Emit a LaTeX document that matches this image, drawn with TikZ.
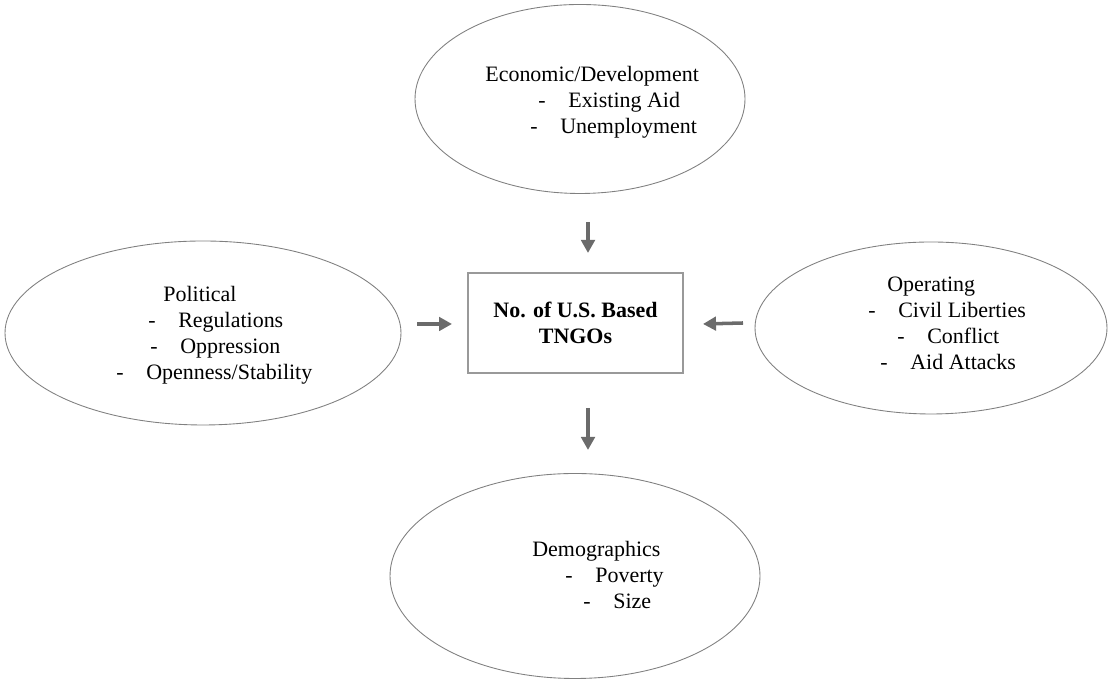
\documentclass[tikz,border=0pt]{standalone}
\usepackage{fontspec}
\setmainfont{Liberation Serif}
\usetikzlibrary{arrows.meta,shapes.geometric}
\newcommand{\dashitem}[1]{\makebox[0.6cm][l]{-}#1}

\begin{document}
\begin{tikzpicture}[x=1.0cm,y=1.0cm,>={Triangle[length=2.6mm,width=2.7mm]},
  blob/.style={ellipse,draw=black!50,line width=0.5pt,inner sep=0pt},
  txt/.style={anchor=west,align=left,inner sep=0pt,font=\fontsize{12.5}{14.8}\selectfont},
  link/.style={->,draw=black!58,fill=black!58,line width=2pt}]
 \useasboundingbox (0,0) rectangle (22.2,13.58);
 % four groups of factors
 \node[blob,minimum width=6.6cm,minimum height=3.78cm] (eco) at (11.6,11.6) {};
 \node[blob,minimum width=7.92cm,minimum height=3.68cm] (pol) at (4.06,6.92) {};
 \node[blob,minimum width=7.04cm,minimum height=3.44cm] (ope) at (18.62,7.02) {};
 \node[blob,minimum width=7.4cm,minimum height=4.1cm] (dem) at (11.5,2.06) {};
 \node[txt] (ecotxt) at (9.70,11.54) {Economic/Development\\
   \hspace*{1.06cm}\dashitem{Existing Aid}\\
   \hspace*{0.90cm}\dashitem{Unemployment}};
 \node[txt] (poltxt) at (2.32,6.87) {\hspace*{0.94cm}Political\\
   \hspace*{0.64cm}\dashitem{Regulations}\\
   \hspace*{0.68cm}\dashitem{Oppression}\\
   \dashitem{Openness/Stability}};
 \node[txt] (opetxt) at (17.36,7.12) {\hspace*{0.38cm}Operating\\
   \dashitem{Civil Liberties}\\
   \hspace*{0.58cm}\dashitem{Conflict}\\
   \hspace*{0.24cm}\dashitem{Aid Attacks}};
 \node[txt] (demtxt) at (10.64,2.08) {Demographics\\
   \hspace*{0.66cm}\dashitem{Poverty}\\
   \hspace*{1.02cm}\dashitem{Size}};
 % the count in the middle
 \node[draw=black!40,line width=0.6pt,minimum width=4.3cm,minimum height=2.0cm,align=center,
   font=\fontsize{12.5}{14.8}\selectfont\bfseries] (tngo) at (11.51,7.12) {No. of U.S. Based\\TNGOs};
 % arrows
 \coordinate (ecotail) at (11.76,9.14); \coordinate (ecohead) at (11.76,8.52);
 \coordinate (poltail) at (8.34,7.10);  \coordinate (polhead) at (9.04,7.10);
 \coordinate (opetail) at (14.86,7.12); \coordinate (opehead) at (14.06,7.10);
 \coordinate (demtail) at (11.76,5.42); \coordinate (demhead) at (11.76,4.58);
 \draw[link] (ecotail) -- (ecohead);
 \draw[link] (poltail) -- (polhead);
 \draw[link] (opetail) -- (opehead);
 \draw[link] (demtail) -- (demhead);
\end{tikzpicture}
\end{document}
